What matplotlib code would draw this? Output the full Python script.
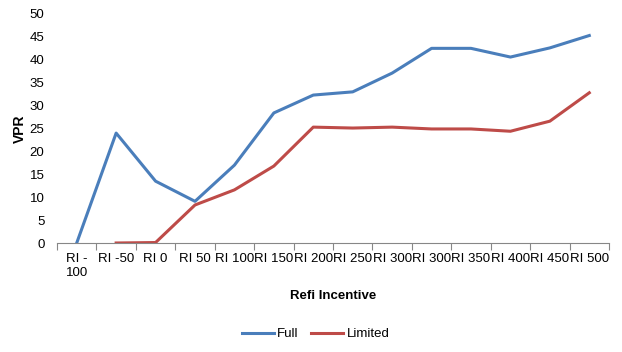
import numpy as np
import matplotlib.pyplot as plt

plt.rcParams['font.family'] = ['Liberation Sans', 'DejaVu Sans']

categories = ['RI - 100', 'RI -50', 'RI 0', 'RI 50', 'RI 100', 'RI 150', 'RI 200',
              'RI 250', 'RI 300', 'RI 300', 'RI 350', 'RI 400', 'RI 450', 'RI 500']
full = [0, 24.0, 13.5, 9.1, 17.0, 28.4, 32.3, 33.0, 37.1, 42.5, 42.5, 40.6, 42.6, 45.3]
limited = [np.nan, 0, 0.1, 8.3, 11.6, 16.8, 25.3, 25.1, 25.3, 24.9, 24.9, 24.4, 26.6, 32.8]

fig = plt.figure(figsize=(6.22, 3.52), dpi=100)
ax = fig.add_axes([57/622, 1-243/352, (609-57)/622, (243-14)/352])

x = np.arange(len(categories))
ax.plot(x, full, color='#4A7EBB', lw=2.2, label='Full')
ax.plot(x, limited, color='#BE4B48', lw=2.2, label='Limited')

ax.set_xlim(-0.5, len(categories)-0.5)
ax.set_ylim(0, 50)
ax.set_yticks(np.arange(0, 51, 5))

# labels wrap like excel for the long one
ax.set_xticks(x)
ax.set_xticklabels([c.replace('RI - ', 'RI -\n') for c in categories], fontsize=9.5)
ax.tick_params(axis='x', which='major', length=0, pad=7)
ax.set_xticks(np.arange(-0.5, len(categories), 1), minor=True)
ax.tick_params(axis='x', which='minor', length=5, color='#878787', width=0.8)
ax.tick_params(axis='y', length=0, labelsize=9.5, pad=9)

for s in ['top', 'right', 'left']:
    ax.spines[s].set_visible(False)
ax.spines['bottom'].set_color('#878787')
ax.spines['bottom'].set_linewidth(0.8)

ax.set_xlabel('Refi Incentive', fontsize=9.5, fontweight='bold', labelpad=8)
ax.set_ylabel('VPR', fontsize=10, fontweight='bold', labelpad=2)

fig.legend(loc='center', bbox_to_anchor=(315.5/622, 1-334/352), ncol=2, frameon=False,
           fontsize=9.5, handlelength=2.45, columnspacing=0.9, handletextpad=0.25)

fig.savefig('out.png', dpi=100)
